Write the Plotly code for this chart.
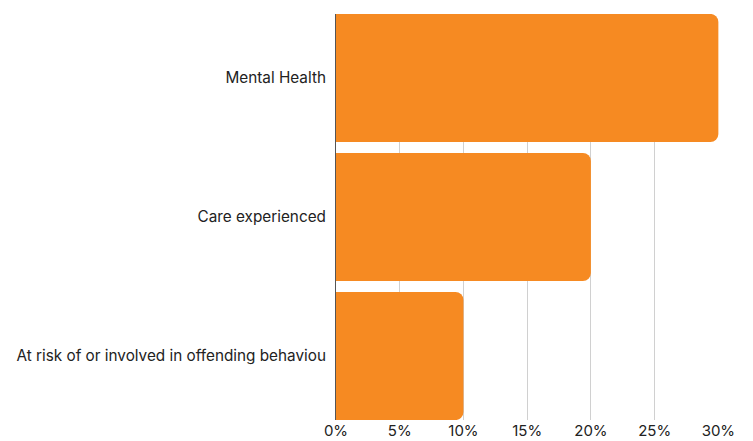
import plotly.graph_objects as go

categories = ["At risk of or involved in offending behaviou", "Care experienced", "Mental Health"]
values = [10, 20, 30]
tick_vals = [0, 5, 10, 15, 20, 25, 30]
tick_text = ["0%", "5%", "10%", "15%", "20%", "25%", "30%"]

fig = go.Figure(go.Bar(
    y=categories, x=values, orientation="h",
    marker=dict(color="#F68A22", cornerradius=8, line=dict(width=0)),
    hoverinfo="skip",
))

fig.update_layout(
    width=753, height=441,
    margin=dict(l=336, r=34, t=14, b=21),
    paper_bgcolor="white", plot_bgcolor="white",
    bargap=0.079,
    showlegend=False,
    font=dict(family="Inter, Open Sans, sans-serif", size=15.3, color="#222"),
    xaxis=dict(
        range=[0, 30.05], tickvals=tick_vals, ticktext=tick_text,
        showgrid=True, gridcolor="#D0D0D0", gridwidth=1,
        zeroline=False, showline=False, ticks="",
        tickfont=dict(size=15, color="#222"),
        ticklabelstandoff=0,
        automargin=False,
    ),
    yaxis=dict(
        categoryorder="array", categoryarray=categories,
        range=[-0.46, 2.46],
        showgrid=False, zeroline=False,
        showline=True, linecolor="#555", linewidth=1,
        ticks="", ticklabelstandoff=6,
        tickfont=dict(size=15.3, color="#222"),
        automargin=False,
    ),
)

fig.write_html("out.html")
